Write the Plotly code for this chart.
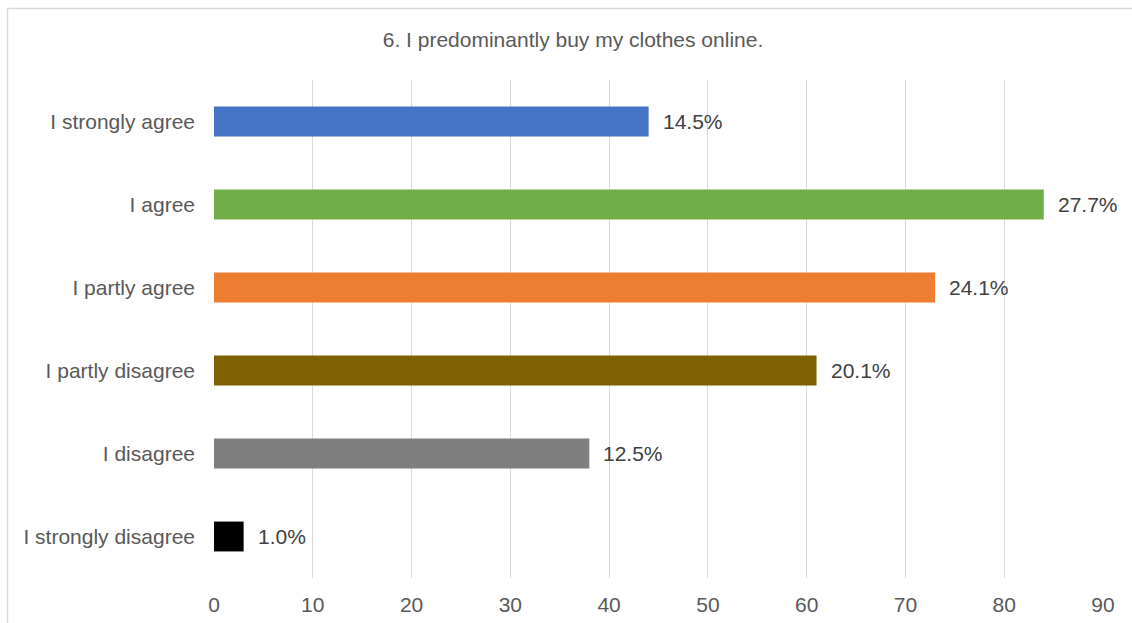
import plotly.graph_objects as go

# Survey responses: "6. I predominantly buy my clothes online."
categories = [
    "I strongly agree",
    "I agree",
    "I partly agree",
    "I partly disagree",
    "I disagree",
    "I strongly disagree",
]
counts = [44, 84, 73, 61, 38, 3]
bar_colors = ["#4472C4", "#70AD47", "#ED7D31", "#7F6000", "#7F7F7F", "#000000"]
x_ticks = [0, 10, 20, 30, 40, 50, 60, 70, 80, 90]

total = sum(counts)
share_labels = [f"{c / total * 100:.1f}%" for c in counts]

W, H = 1132, 623
M_L, M_R, M_T, M_B = 214, 29, 80, 45
plot_w = W - M_L - M_R
plot_h = H - M_T - M_B
FONT = "Liberation Sans, Arial, sans-serif"

fig = go.Figure()
fig.add_trace(go.Bar(
    x=counts,
    y=categories,
    orientation="h",
    marker=dict(color=bar_colors, line=dict(width=0)),
    hoverinfo="x+y",
))

# Percentage labels just to the right of each bar end
for cat, val, lab in zip(categories, counts, share_labels):
    fig.add_annotation(
        x=val, y=cat, text=lab, showarrow=False,
        xanchor="left", yanchor="middle", xshift=12,
        font=dict(family=FONT, size=21, color="#404040"),
    )

# Light outer frame of the chart area (left and top edges; the rest runs off the page)
def px_x(p):
    return (p - M_L) / plot_w

def px_y(p):
    return (H - M_B - p) / plot_h

frame = dict(color="#D9D9D9", width=1.5)
fig.add_shape(type="line", xref="paper", yref="paper",
              x0=px_x(7.5), x1=px_x(7.5), y0=px_y(H + 5), y1=px_y(8.5),
              line=frame, layer="below")
fig.add_shape(type="line", xref="paper", yref="paper",
              x0=px_x(7.5), x1=px_x(W + 5), y0=px_y(8.5), y1=px_y(8.5),
              line=frame, layer="below")

fig.update_layout(
    width=W, height=H,
    margin=dict(l=M_L, r=M_R, t=M_T, b=M_B, pad=0),
    paper_bgcolor="white", plot_bgcolor="white",
    showlegend=False,
    bargap=0.64,
    font=dict(family=FONT, size=21, color="#595959"),
    title=dict(
        text="6. I predominantly buy my clothes online.",
        x=573 / W, xanchor="center", y=1 - 40 / H, yanchor="middle",
        font=dict(size=21, color="#595959"),
    ),
    xaxis=dict(
        range=[0, 90], tickvals=x_ticks, showgrid=True, gridcolor="#D9D9D9", gridwidth=1,
        zeroline=False, showline=False, ticks="", ticklabelstandoff=12, automargin=False,
        tickfont=dict(size=21, color="#595959"),
    ),
    yaxis=dict(
        categoryorder="array", categoryarray=categories, autorange="reversed",
        showgrid=False, zeroline=False, showline=False, ticks="", ticklabelstandoff=18,
        automargin=False, tickfont=dict(size=21, color="#595959"),
    ),
)

fig.write_html("out.html")
